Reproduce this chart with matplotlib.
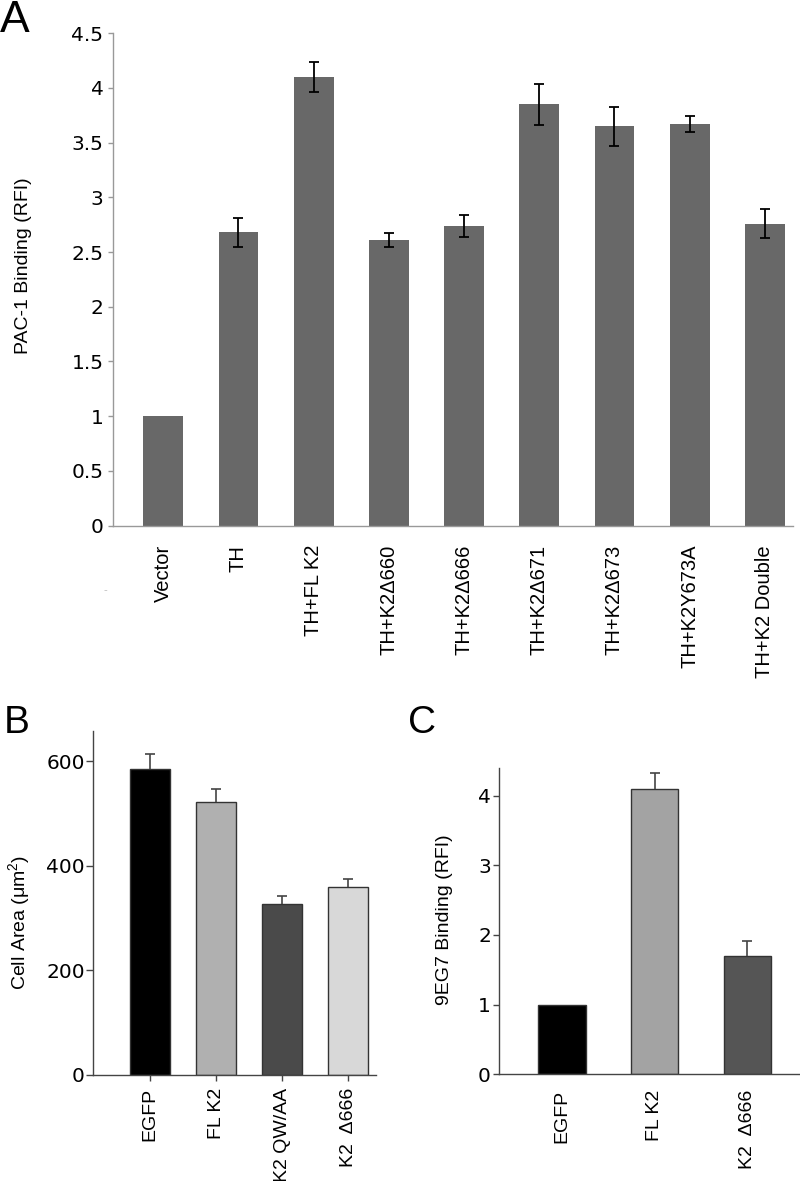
import matplotlib
matplotlib.use("Agg")
import matplotlib.pyplot as plt
import numpy as np

plt.rcParams['font.family'] = ['Liberation Sans', 'DejaVu Sans']
plt.rcParams['mathtext.fontset'] = 'custom'
plt.rcParams['mathtext.rm'] = 'Liberation Sans'

# panel A data
a_labels = ['Vector', 'TH', 'TH+FL K2', 'TH+K2\u0394660', 'TH+K2\u0394666',
            'TH+K2\u0394671', 'TH+K2\u0394673', 'TH+K2Y673A', 'TH+K2 Double']
a_vals = [1.0, 2.68, 4.10, 2.61, 2.74, 3.85, 3.65, 3.67, 2.76]
a_err = [0.0, 0.13, 0.14, 0.06, 0.10, 0.19, 0.18, 0.07, 0.13]
a_ticks = [0, 0.5, 1, 1.5, 2, 2.5, 3, 3.5, 4, 4.5]
a_ticklabels = ['0', '0.5', '1', '1.5', '2', '2.5', '3', '3.5', '4', '4.5']

# panel B data
b_labels = ['EGFP', 'FL K2', 'K2 QW/AA', 'K2  \u0394666']
b_vals = [585, 522, 327, 359]
b_err = [29, 25, 16, 15]
b_colors = ['#000000', '#b0b0b0', '#4a4a4a', '#d8d8d8']
b_ticks = [0, 200, 400, 600]

# panel C data
c_labels = ['EGFP', 'FL K2', 'K2  \u0394666']
c_vals = [1.0, 4.10, 1.70]
c_err = [0.0, 0.23, 0.21]
c_colors = ['#000000', '#a3a3a3', '#555555']
c_ticks = [0, 1, 2, 3, 4]

W, H = 800, 1181
fig = plt.figure(figsize=(W / 100, H / 100), dpi=100)


def px_axes(l, r, t, b):
    return fig.add_axes([l / W, 1 - b / H, (r - l) / W, (b - t) / H])


def tick_style(ax, spine_col):
    for s in ['top', 'right']:
        ax.spines[s].set_visible(False)
    for s in ['left', 'bottom']:
        ax.spines[s].set_color(spine_col)
        ax.spines[s].set_linewidth(1.0)


def one_sided_err(ax, x, y, err, col, cap):
    eb = ax.errorbar(x, y, yerr=[np.zeros(len(err)), err], fmt='none',
                     ecolor=col, elinewidth=1.2, capsize=cap, capthick=1.2)
    # hide the lower caps sitting on the bar tops
    for c in eb[1]:
        yd = np.asarray(c.get_ydata())
        if np.allclose(yd, y):
            c.set_visible(False)


# ---- A ----
axA = px_axes(112.7, 793, 33.3, 525.5)
xa = np.arange(len(a_labels))
axA.bar(xa, a_vals, width=0.53, color='#686868', edgecolor='none')
ea = np.array(a_err)
mask = ea > 0
axA.errorbar(xa[mask], np.array(a_vals)[mask], yerr=ea[mask], fmt='none',
             ecolor='black', elinewidth=1.3, capsize=3.5, capthick=1.3)
axA.set_xlim(-0.673, 8.375)
axA.set_ylim(0, 4.5)
axA.set_yticks(a_ticks)
axA.set_yticklabels(a_ticklabels, fontfamily='DejaVu Sans', fontsize=14.5)
axA.set_xticks(xa)
axA.set_xticklabels(a_labels, rotation=90, fontsize=14.5, va='top')
axA.tick_params(axis='x', length=0, pad=14)
axA.tick_params(axis='y', length=3.7, width=1, color='#999999', pad=3)
tick_style(axA, '#999999')
fig.text(24 / W, 1 - 266 / H, 'PAC-1 Binding (RFI)', rotation=90,
         ha='center', va='center', fontsize=14)
fig.text(105 / W, 1 - 590 / H, '-', color='#bbbbbb', fontsize=8,
         ha='center', va='center')

# ---- B ----
axB = px_axes(93.3, 376, 730.7, 1075)
xb = np.arange(len(b_labels))
axB.bar(xb, b_vals, width=0.605, color=b_colors, edgecolor='#333333',
        linewidth=1.0)
one_sided_err(axB, xb, np.array(b_vals, float), np.array(b_err, float),
              '#444444', 3.7)
axB.set_xlim(-0.858, 3.42)
axB.set_ylim(0, 658)
axB.set_yticks(b_ticks)
axB.set_yticklabels([str(t) for t in b_ticks], fontfamily='DejaVu Sans',
                    fontsize=14.5)
axB.set_xticks(xb)
axB.set_xticklabels(b_labels, rotation=90, fontsize=14, va='top')
axB.tick_params(axis='x', length=4.5, width=1, color='#444444', pad=5)
axB.tick_params(axis='y', length=5, width=1, color='#444444', pad=1)
tick_style(axB, '#444444')
fig.text(20 / W, 1 - 922 / H, 'Cell Area (\u03bcm$^\\mathregular{2}$)',
         rotation=90, ha='center', va='center', fontsize=14)

# ---- C ----
axC = px_axes(499.3, 799, 767.7, 1074.3)
xc = np.arange(len(c_labels))
axC.bar(xc, c_vals, width=0.51, color=c_colors, edgecolor='#333333',
        linewidth=1.0)
one_sided_err(axC, xc[1:], np.array(c_vals[1:]), np.array(c_err[1:]),
              '#444444', 3.7)
axC.set_xlim(-0.678, 2.56)
axC.set_ylim(0, 4.4)
axC.set_yticks(c_ticks)
axC.set_yticklabels([str(t) for t in c_ticks], fontfamily='DejaVu Sans',
                    fontsize=14.5)
axC.set_xticks(xc)
axC.set_xticklabels(c_labels, rotation=90, fontsize=14, va='top')
axC.tick_params(axis='x', length=0, pad=11)
axC.tick_params(axis='y', length=4, width=1, color='#444444', pad=2)
tick_style(axC, '#444444')
fig.text(444 / W, 1 - 920 / H, '9EG7 Binding (RFI)', rotation=90,
         ha='center', va='center', fontsize=14)

# panel letters
fig.text(0 / W, 1 - 32 / H, 'A', fontsize=32, va='baseline', ha='left')
fig.text(4 / W, 1 - 733 / H, 'B', fontsize=28, va='baseline', ha='left')
fig.text(408 / W, 1 - 733 / H, 'C', fontsize=28, va='baseline', ha='left')

fig.savefig('out.png', dpi=100)
